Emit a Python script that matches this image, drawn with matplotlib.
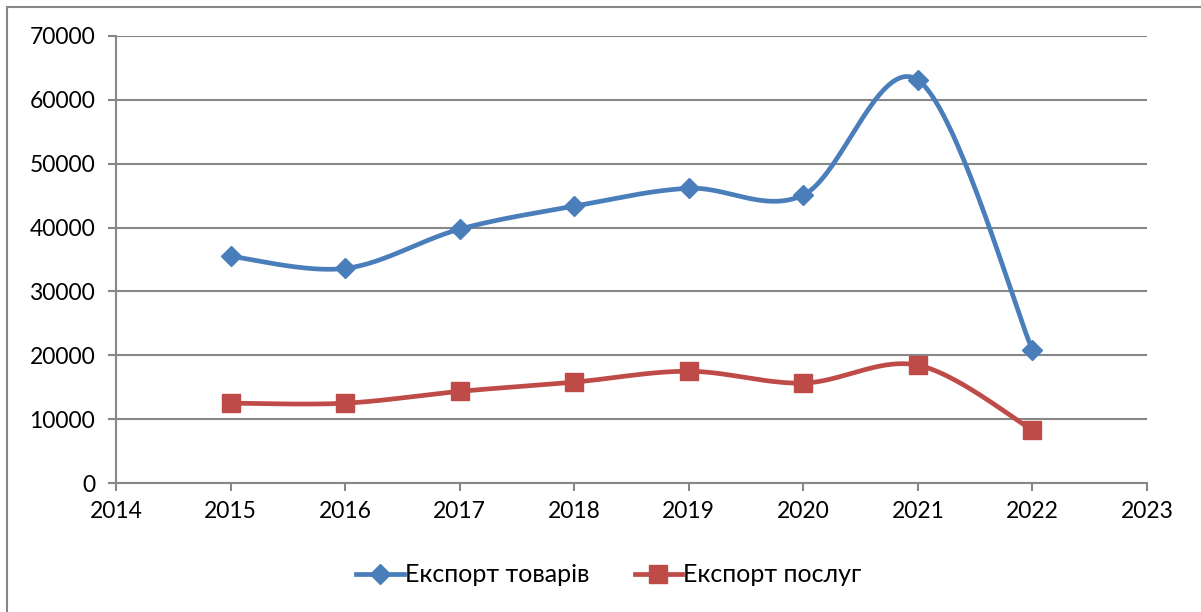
import matplotlib.pyplot as plt
import numpy as np
from matplotlib.lines import Line2D
from matplotlib.patches import Rectangle

plt.rcParams['font.family'] = ['Lato', 'DejaVu Sans']

years = [2015, 2016, 2017, 2018, 2019, 2020, 2021, 2022]
goods = [35500, 33600, 39750, 43350, 46150, 45100, 63100, 20800]
services = [12500, 12500, 14350, 15800, 17500, 15650, 18450, 8300]

blue = '#4A7EBB'
red = '#BE4B48'


def smooth(x, y, n=40):
    # excel-style smoothed line: bezier through points, tangents from neighbours
    x = np.asarray(x, float)
    y = np.asarray(y, float)
    px = np.concatenate([[x[0]], x, [x[-1]]])
    py = np.concatenate([[y[0]], y, [y[-1]]])
    t = np.linspace(0, 1, n)
    xs, ys = [], []
    for i in range(len(x) - 1):
        p0 = np.array([px[i + 1], py[i + 1]])
        p3 = np.array([px[i + 2], py[i + 2]])
        c1 = p0 + (p3 - np.array([px[i], py[i]])) / 6
        c2 = p3 - (np.array([px[i + 3], py[i + 3]]) - p0) / 6
        b = ((1 - t) ** 3)[:, None] * p0 + (3 * (1 - t) ** 2 * t)[:, None] * c1 \
            + (3 * (1 - t) * t ** 2)[:, None] * c2 + (t ** 3)[:, None] * p3
        xs.append(b[:, 0])
        ys.append(b[:, 1])
    return np.concatenate(xs), np.concatenate(ys)


fig = plt.figure(figsize=(12.01, 6.12), dpi=100)
ax = fig.add_axes([116 / 1201, 1 - 483 / 612, (1147 - 116) / 1201, (483 - 36) / 612])

sx, sy = smooth(years, goods)
ax.plot(sx, sy, color=blue, lw=3.4, zorder=3)
ax.plot(years, goods, 'D', color=blue, ms=10, zorder=4)
sx, sy = smooth(years, services)
ax.plot(sx, sy, color=red, lw=3.4, zorder=3)
ax.plot(years, services, 's', color=red, ms=13, zorder=4)

ax.set_xlim(2014, 2023)
ax.set_ylim(0, 70000)
ax.set_xticks(range(2014, 2024))
ax.set_yticks(range(0, 70001, 10000))
ax.grid(axis='y', color='#878787', lw=1.5)
ax.set_axisbelow(True)
for s in ['top', 'right']:
    ax.spines[s].set_visible(False)
for s in ['left', 'bottom']:
    ax.spines[s].set_color('#878787')
    ax.spines[s].set_linewidth(1.5)
ax.tick_params(axis='both', colors='#878787', labelcolor='black', labelsize=16.5, width=1.5, length=6)
ax.tick_params(axis='x', pad=7)
ax.tick_params(axis='y', pad=9)

handles = [
    Line2D([], [], color=blue, lw=3.4, marker='D', ms=10),
    Line2D([], [], color=red, lw=3.4, marker='s', ms=13),
]
fig.legend(handles, ['Експорт товарів', 'Експорт послуг'], loc='center',
           bbox_to_anchor=(609 / 1201, 1 - 575 / 612), ncol=2, frameon=False,
           fontsize=18, handlelength=1.9, handletextpad=0.05, columnspacing=1.8)

fig.patches.append(Rectangle((7 / 1201, -0.1), 1.2, 1 - 7 / 612 + 0.1, transform=fig.transFigure,
                             fill=False, edgecolor='#878787', lw=1.5))

fig.savefig('out.png', dpi=100)
